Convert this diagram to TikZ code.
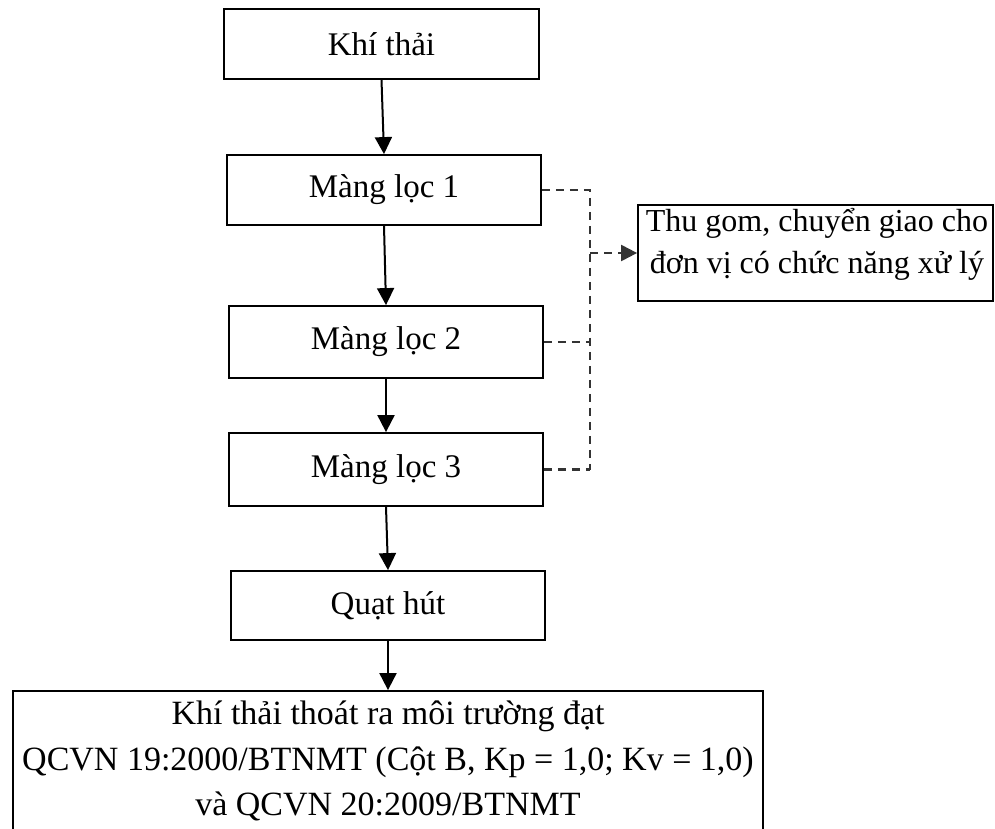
\documentclass[tikz,border=0pt]{standalone}
\usepackage{fontspec}
\setmainfont{Liberation Serif}
\usetikzlibrary{arrows.meta}
\begin{document}
\begin{tikzpicture}[x=1pt,y=-1pt,
  stepbox/.style={draw, line width=1.8pt, inner sep=0pt, align=center,
    font=\fontsize{33}{45.5}\selectfont},
  flow/.style={line width=2pt, -{Triangle[length=17pt,width=17pt]}},
  waste/.style={line width=2.2pt, draw=black!80, dash pattern=on 8pt off 6pt},
  wastearrow/.style={waste, -{Triangle[length=16pt,width=16pt,fill=black!80]}}]
\useasboundingbox (0,0) rectangle (995,829);
\clip (0,0) rectangle (995,829);

% main treatment line
\node[stepbox, minimum width=315pt, minimum height=70pt] (b1) at (381.5,44) {Khí thải};
\node[stepbox, minimum width=314pt, minimum height=70pt] (b2) at (384,190) {Màng lọc 1};
\node[stepbox, minimum width=314pt, minimum height=72pt] (b3) at (386,342) {Màng lọc 2};
\node[stepbox, minimum width=314pt, minimum height=73pt] (b4) at (386,469.5) {Màng lọc 3};
\node[stepbox, minimum width=314pt, minimum height=69pt] (b5) at (388,605.5) {Quạt hút};
\node[stepbox, minimum width=750pt, minimum height=140pt,
  font=\fontsize{34}{45.5}\selectfont] (b6) at (388,761)
  {Khí thải thoát ra môi trường đạt\\QCVN 19:2000/BTNMT (Cột B, Kp = 1,0; Kv = 1,0)\\và QCVN 20:2009/BTNMT};

% residue collection
\node[draw, line width=1.8pt, minimum width=355pt, minimum height=96pt, inner sep=0pt] (side) at (815.5,253) {};
\node[align=center, inner sep=0pt, font=\fontsize{32}{42}\selectfont] (sidetext) at (817,244)
  {Thu gom, chuyển giao cho\\đơn vị có chức năng xử lý};

\draw[flow] (b1.south) -- (b2.north);
\draw[flow] (b2.south) -- (b3.north);
\draw[flow] (b3.south) -- (b4.north);
\draw[flow] (b4.south) -- (b5.north);
\draw[flow] (b5.south) -- (b6.north);

\coordinate (bus) at (590,0);
\draw[waste] (b2.east) -- (b2.east -| bus) -- (b4.east -| bus);
\draw[waste] (b3.east) -- (b3.east -| bus);
\draw[waste] (b4.east) -- (b4.east -| bus);
\draw[wastearrow] (side.west -| bus) -- (side.west);
\end{tikzpicture}
\end{document}
